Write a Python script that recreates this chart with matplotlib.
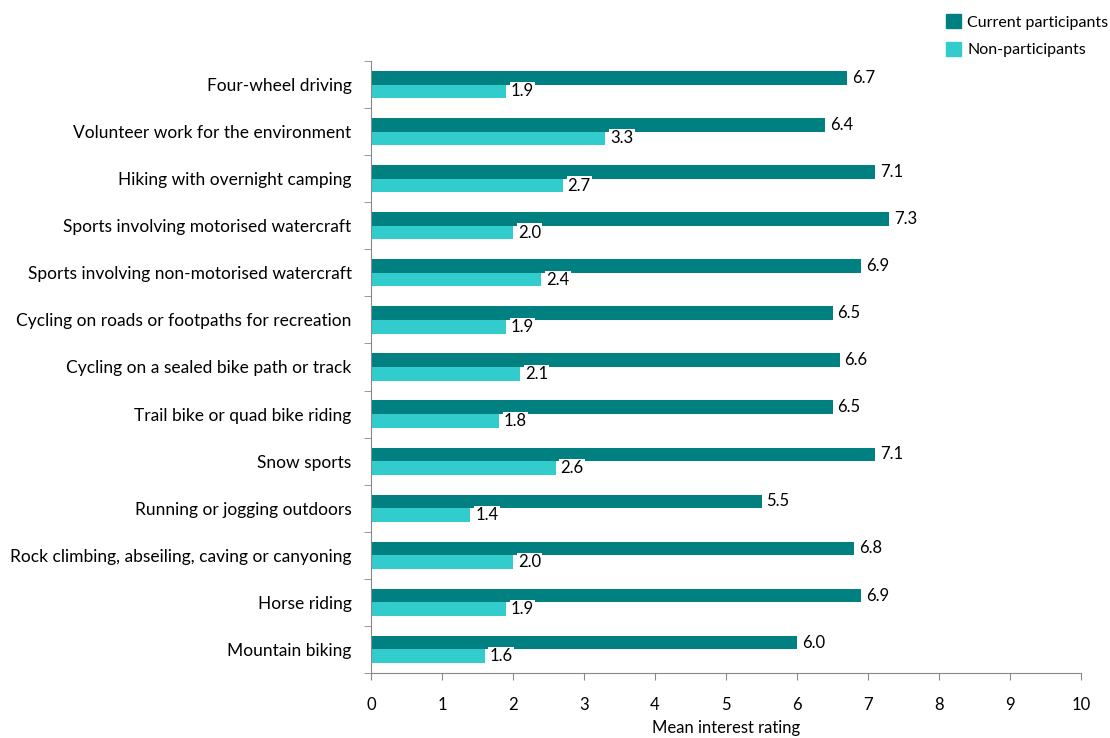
import numpy as np
import matplotlib.pyplot as plt
from matplotlib.patches import Patch

activities = [
    "Four-wheel driving",
    "Volunteer work for the environment",
    "Hiking with overnight camping",
    "Sports involving motorised watercraft",
    "Sports involving non-motorised watercraft",
    "Cycling on roads or footpaths for recreation",
    "Cycling on a sealed bike path or track",
    "Trail bike or quad bike riding",
    "Snow sports",
    "Running or jogging outdoors",
    "Rock climbing, abseiling, caving or canyoning",
    "Horse riding",
    "Mountain biking",
]
current = [6.7, 6.4, 7.1, 7.3, 6.9, 6.5, 6.6, 6.5, 7.1, 5.5, 6.8, 6.9, 6.0]
non_part = [1.9, 3.3, 2.7, 2.0, 2.4, 1.9, 2.1, 1.8, 2.6, 1.4, 2.0, 1.9, 1.6]

dark = "#008080"
light = "#33CCCC"
axis_col = "#888888"

plt.rcParams["font.family"] = ["Lato", "DejaVu Sans"]

fig = plt.figure(figsize=(11.1, 7.38), dpi=100)
ax = fig.add_axes([371 / 1110, 1 - 673 / 738, 710 / 1110, 612 / 738])

n = len(activities)
y = np.arange(n)[::-1].astype(float)
h = 0.29

ax.barh(y + h / 2, current, height=h, color=dark, label="Current participants")
ax.barh(y - h / 2, non_part, height=h, color=light, label="Non-participants")

for yi, v in zip(y + h / 2, current):
    ax.text(v + 0.07, yi, f"{v:.1f}", va="center", ha="left", fontsize=12,
            bbox=dict(facecolor="white", edgecolor="none", pad=0.8))
for yi, v in zip(y - h / 2, non_part):
    ax.text(v + 0.07, yi, f"{v:.1f}", va="center", ha="left", fontsize=12,
            bbox=dict(facecolor="white", edgecolor="none", pad=0.8))

ax.set_xlim(0, 10)
ax.set_ylim(-0.5, n - 0.5)
ax.set_xticks(range(0, 11))
ax.tick_params(axis="x", labelsize=12, colors=axis_col, labelcolor="black",
               length=5, pad=12)

ax.set_yticks(y)
ax.set_yticklabels(activities, fontsize=12.5)
ax.tick_params(axis="y", length=0, pad=14)
ax.set_yticks(np.arange(-0.5, n, 1.0), minor=True)
ax.tick_params(axis="y", which="minor", length=5, colors=axis_col)

for s in ["top", "right"]:
    ax.spines[s].set_visible(False)
for s in ["left", "bottom"]:
    ax.spines[s].set_color(axis_col)

ax.set_xlabel("Mean interest rating", fontsize=12, labelpad=5)

handles = [Patch(color=dark), Patch(color=light)]
fig.legend(handles, ["Current participants", "Non-participants"],
           loc="upper left", bbox_to_anchor=(932 / 1110, 1 - 0 / 738),
           frameon=False, fontsize=11.5, handlelength=0.9, handleheight=0.9,
           handletextpad=0.4, labelspacing=0.8)

fig.savefig("out.png", dpi=100)
